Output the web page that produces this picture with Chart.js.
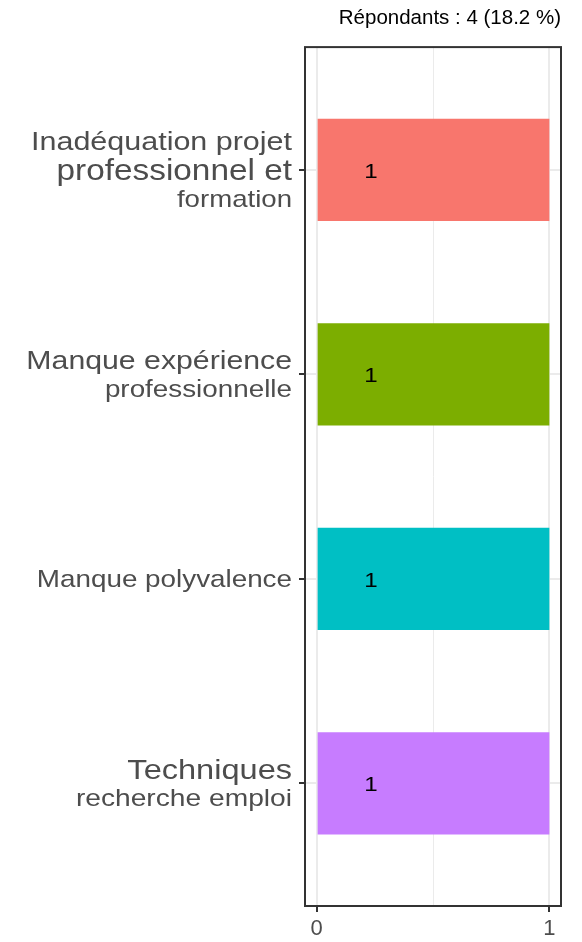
<!DOCTYPE html>
<html><head><meta charset="utf-8">
<script src="https://cdn.jsdelivr.net/npm/chart.js@4/dist/chart.umd.min.js"></script>
<style>html,body{margin:0;padding:0;background:#fff;}#wrap{width:582px;height:942px;position:relative;}</style>
</head><body><div id="wrap"><canvas id="c"></canvas></div>
<script>
const categories = [
  ["Inadéquation projet", "professionnel et", "formation"],
  ["Manque expérience", "professionnelle"],
  ["Manque polyvalence"],
  ["Techniques", "recherche emploi"]
];
const values = [1, 1, 1, 1];
const valueLabels = ["1", "1", "1", "1"];
const barColors = ["#F8766D", "#7CAE00", "#00BFC4", "#C77CFF"];
const xTicks = [0, 0.5, 1];
const xTickLabels = ["0", "", "1"];
const titleText = "Répondants : 4 (18.2 %)";

const FONT = "'Liberation Sans', Arial, Helvetica, sans-serif";

const panelBorder = {
  id: 'panelBorder',
  afterDraw(chart) {
    const a = chart.chartArea, ctx = chart.ctx;
    ctx.save();
    ctx.strokeStyle = '#333333';
    ctx.lineWidth = 2;
    ctx.strokeRect(a.left, a.top, a.right - a.left, a.bottom - a.top);
    ctx.restore();
  }
};

const yLabels = {
  id: 'yLabels',
  afterDraw(chart, args, opts) {
    const ys = chart.scales.y, ctx = chart.ctx;
    const right = ys.right - opts.gap;
    ctx.save();
    ctx.fillStyle = opts.color;
    ctx.textAlign = 'right';
    ctx.textBaseline = 'alphabetic';
    categories.forEach((lines, i) => {
      const cy = ys.getPixelForValue(i);
      const n = lines.length;
      lines.forEach((line, j) => {
        const size = opts.sizes[i][j];
        const center = cy + (j - (n - 1) / 2) * opts.lineHeight;
        ctx.save();
        ctx.font = size + 'px ' + FONT;
        ctx.translate(right, center + 0.35 * size);
        ctx.scale(opts.stretch, 1);
        ctx.fillText(line, 0, 0);
        ctx.restore();
      });
    });
    ctx.restore();
  }
};

const barText = {
  id: 'barText',
  afterDatasetsDraw(chart, args, opts) {
    const xs = chart.scales.x, ctx = chart.ctx;
    const meta = chart.getDatasetMeta(0);
    ctx.save();
    ctx.fillStyle = opts.color;
    ctx.font = opts.size + 'px ' + FONT;
    ctx.textAlign = 'center';
    ctx.textBaseline = 'middle';
    meta.data.forEach((bar, i) => {
      const x = xs.getPixelForValue(values[i] * opts.frac);
      ctx.save();
      ctx.translate(x, bar.y + opts.dy);
      ctx.scale(opts.stretch, 1);
      ctx.fillText(valueLabels[i], 0, 0);
      ctx.restore();
    });
    ctx.restore();
  }
};

new Chart(document.getElementById('c'), {
  type: 'bar',
  data: {
    datasets: [{
      data: categories.map((c, i) => ({ x: values[i], y: i })),
      backgroundColor: barColors,
      borderWidth: 0,
      barPercentage: 0.5,
      categoryPercentage: 1
    }]
  },
  options: {
    indexAxis: 'y',
    responsive: true,
    maintainAspectRatio: false,
    animation: false,
    layout: { padding: { left: 0, right: 21, top: 0, bottom: 0 } },
    scales: {
      x: {
        type: 'linear', position: 'bottom', min: -0.05, max: 1.05, offset: false,
        afterBuildTicks: s => { s.ticks = xTicks.map(v => ({ value: v })); },
        afterFit: s => { s.height = 36; },
        ticks: {
          autoSkip: false, maxRotation: 0, padding: 3.5,
          callback: (v, i) => xTickLabels[i],
          font: { family: FONT, size: 22 }, color: '#4d4d4d'
        },
        grid: {
          offset: false,
          color: '#ebebeb',
          lineWidth: c => (c.tick && c.tick.value === 0.5) ? 1 : 2,
          drawTicks: true, tickLength: 6, tickWidth: 2,
          tickColor: c => (c.tick && c.tick.value === 0.5) ? 'rgba(0,0,0,0)' : '#333333'
        },
        border: { display: false }
      },
      y: {
        type: 'linear', min: -0.6, max: 3.6, reverse: true, offset: false,
        afterBuildTicks: s => { s.ticks = categories.map((c, i) => ({ value: i })); },
        afterFit: s => { s.width = 305; },
        ticks: { display: false },
        grid: {
          offset: false,
          color: '#ebebeb', lineWidth: 2,
          drawTicks: true, tickLength: 6, tickWidth: 2, tickColor: '#333333'
        },
        border: { display: false }
      }
    },
    plugins: {
      legend: { display: false },
      tooltip: { enabled: false },
      title: {
        display: true, text: titleText, align: 'end',
        color: '#000000',
        font: { family: FONT, size: 20.5, weight: 'normal', lineHeight: 1.2 },
        padding: { top: 6.5, bottom: 16 }
      },
      yLabels: {
        gap: 13, color: '#4d4d4d', lineHeight: 29, stretch: 1.15,
        sizes: [[26.5, 29, 24], [26.3, 24.2], [24.2], [28.3, 24.5]]
      },
      barText: { color: '#000000', size: 21, frac: 0.233, dy: 2, stretch: 1.15 }
    }
  },
  plugins: [panelBorder, yLabels, barText]
});
</script>
</body></html>
